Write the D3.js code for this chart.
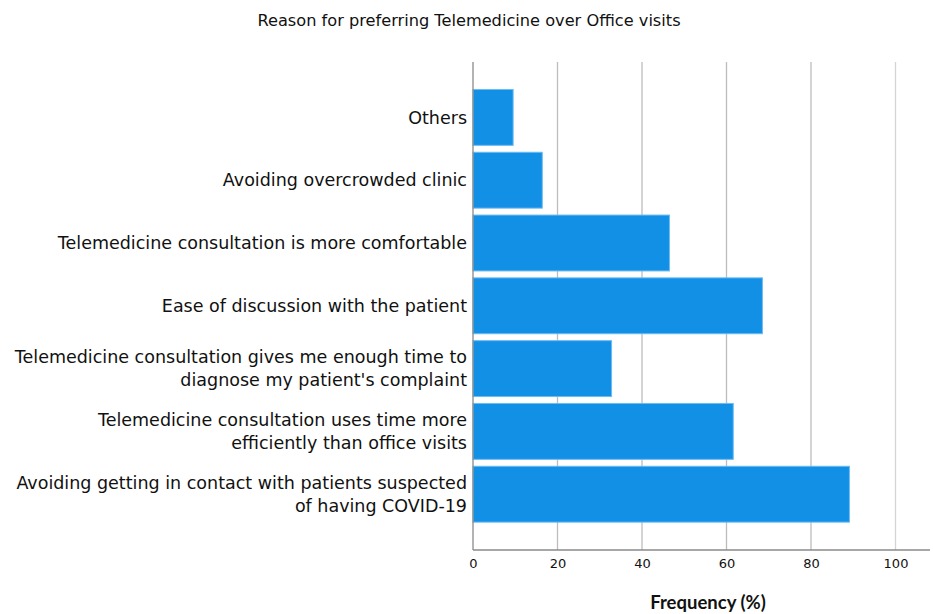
<!DOCTYPE html>
<html><head><meta charset="utf-8">
<script src="https://cdn.jsdelivr.net/npm/d3@7"></script>
<style>body{margin:0;background:#fff}svg{display:block}</style>
</head><body>
<svg id="c" width="933" height="614"></svg>
<script>
const categories = [
  ["Others"],
  ["Avoiding overcrowded clinic"],
  ["Telemedicine consultation is more comfortable"],
  ["Ease of discussion with the patient"],
  ["Telemedicine consultation gives me enough time to", "diagnose my patient's complaint"],
  ["Telemedicine consultation uses time more", "efficiently than office visits"],
  ["Avoiding getting in contact with patients suspected", "of having COVID-19"]
];
const values = [9.5, 16.4, 46.5, 68.5, 32.8, 61.6, 89.1];
const xTicks = [0, 20, 40, 60, 80, 100];
const title = "Reason for preferring Telemedicine over Office visits";
const xTitle = "Frequency (%)";

const svg = d3.select("#c");
const font = "'DejaVu Sans', sans-serif";
const x = d3.scaleLinear().domain([0, 100]).range([473, 895.5]);
const y = d3.scaleBand().domain(d3.range(categories.length)).range([86, 525.6]).paddingInner(0.11).paddingOuter(0.055);

// gridlines
svg.append("g").selectAll("line").data(xTicks.filter(d => d > 0)).join("line")
  .attr("x1", d => x(d)).attr("x2", d => x(d)).attr("y1", 62).attr("y2", 550)
  .attr("stroke", d => d === 100 ? "#d4d4d4" : "#bdbdbd").attr("stroke-width", 1.3);

// bars
svg.append("g").selectAll("rect").data(values).join("rect")
  .attr("x", x(0)).attr("y", (d, i) => y(i))
  .attr("width", d => x(d) - x(0)).attr("height", y.bandwidth())
  .attr("fill", "#1290e6").attr("stroke", "#6cbcf3").attr("stroke-width", 1);

// axes lines
svg.append("line").attr("x1", x(0)).attr("x2", x(0)).attr("y1", 62).attr("y2", 550).attr("stroke", "#8a8a8a").attr("stroke-width", 1.3);
svg.append("line").attr("x1", x(0)).attr("x2", 930).attr("y1", 550).attr("y2", 550).attr("stroke", "#8a8a8a").attr("stroke-width", 1.3);

const xAxis = d3.axisBottom(x).tickValues(xTicks).tickSize(0).tickPadding(9);
const ga = svg.append("g").attr("transform", "translate(0,550)").call(xAxis);
ga.select(".domain").remove();
ga.selectAll("text").attr("font-family", font).attr("font-size", 13).attr("fill", "#111");

// category labels
const lg = svg.append("g");
categories.forEach((lines, i) => {
  const cy = y(i) + y.bandwidth() / 2;
  const lh = 22.5;
  const t = lg.append("text").attr("text-anchor", "end").attr("font-family", font)
    .attr("font-size", 17.5).attr("fill", "#111");
  lines.forEach((s, j) => {
    t.append("tspan").attr("x", 467)
      .attr("y", cy + (j - (lines.length - 1) / 2) * lh).attr("dy", "0.35em").text(s);
  });
});

svg.append("text").attr("x", 469).attr("y", 26).attr("text-anchor", "middle")
  .attr("font-family", font).attr("font-size", 16.2).attr("fill", "#111").text(title);
svg.append("text").attr("x", 708).attr("y", 609).attr("text-anchor", "middle")
  .attr("font-family", "Lato, sans-serif").attr("font-size", 18.5).attr("font-weight", "bold").attr("fill", "#111").text(xTitle);
</script>
</body></html>
